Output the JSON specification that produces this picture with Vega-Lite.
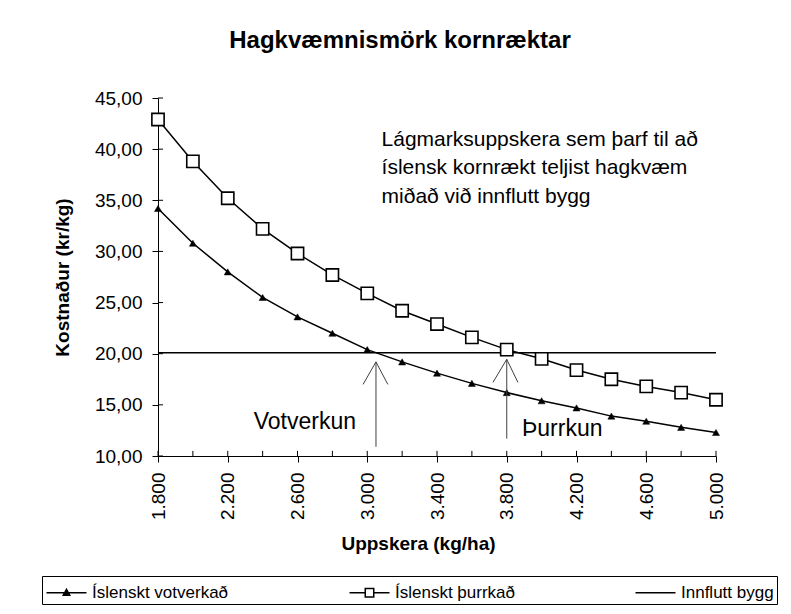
{
  "$schema": "https://vega.github.io/schema/vega-lite/v6.json",
  "width": 558,
  "height": 358,
  "autosize": "none",
  "padding": {"left": 158, "top": 98, "right": 75, "bottom": 158},
  "background": "white",
  "config": {
    "font": "Liberation Sans",
    "view": {"stroke": null},
    "axis": {"grid": false, "domainColor": "black", "tickColor": "black", "labelColor": "black", "titleColor": "black", "labelFont": "Liberation Sans", "titleFont": "Liberation Sans", "labelFlush": false, "labelOverlap": false, "labelBound": false}
  },
  "title": {"text": "Hagkvæmnismörk kornræktar", "fontSize": 24, "fontWeight": "bold", "font": "Liberation Sans", "color": "black", "anchor": "middle", "dx": -37, "baseline": "alphabetic", "offset": 17},
  "datasets": {
    "series": [
      {"u": 1800, "k": 34.2, "s": "Íslenskt votverkað"},
      {"u": 2000, "k": 30.8, "s": "Íslenskt votverkað"},
      {"u": 2200, "k": 28.0, "s": "Íslenskt votverkað"},
      {"u": 2400, "k": 25.5, "s": "Íslenskt votverkað"},
      {"u": 2600, "k": 23.6, "s": "Íslenskt votverkað"},
      {"u": 2800, "k": 22.0, "s": "Íslenskt votverkað"},
      {"u": 3000, "k": 20.4, "s": "Íslenskt votverkað"},
      {"u": 3200, "k": 19.2, "s": "Íslenskt votverkað"},
      {"u": 3400, "k": 18.1, "s": "Íslenskt votverkað"},
      {"u": 3600, "k": 17.1, "s": "Íslenskt votverkað"},
      {"u": 3800, "k": 16.2, "s": "Íslenskt votverkað"},
      {"u": 4000, "k": 15.4, "s": "Íslenskt votverkað"},
      {"u": 4200, "k": 14.7, "s": "Íslenskt votverkað"},
      {"u": 4400, "k": 13.9, "s": "Íslenskt votverkað"},
      {"u": 4600, "k": 13.4, "s": "Íslenskt votverkað"},
      {"u": 4800, "k": 12.8, "s": "Íslenskt votverkað"},
      {"u": 5000, "k": 12.3, "s": "Íslenskt votverkað"},
      {"u": 1800, "k": 42.9, "s": "Íslenskt þurrkað"},
      {"u": 2000, "k": 38.8, "s": "Íslenskt þurrkað"},
      {"u": 2200, "k": 35.2, "s": "Íslenskt þurrkað"},
      {"u": 2400, "k": 32.2, "s": "Íslenskt þurrkað"},
      {"u": 2600, "k": 29.8, "s": "Íslenskt þurrkað"},
      {"u": 2800, "k": 27.7, "s": "Íslenskt þurrkað"},
      {"u": 3000, "k": 25.9, "s": "Íslenskt þurrkað"},
      {"u": 3200, "k": 24.2, "s": "Íslenskt þurrkað"},
      {"u": 3400, "k": 22.9, "s": "Íslenskt þurrkað"},
      {"u": 3600, "k": 21.6, "s": "Íslenskt þurrkað"},
      {"u": 3800, "k": 20.4, "s": "Íslenskt þurrkað"},
      {"u": 4000, "k": 19.5, "s": "Íslenskt þurrkað"},
      {"u": 4200, "k": 18.4, "s": "Íslenskt þurrkað"},
      {"u": 4400, "k": 17.5, "s": "Íslenskt þurrkað"},
      {"u": 4600, "k": 16.8, "s": "Íslenskt þurrkað"},
      {"u": 4800, "k": 16.2, "s": "Íslenskt þurrkað"},
      {"u": 5000, "k": 15.5, "s": "Íslenskt þurrkað"},
      {"u": 1800, "k": 20.1, "s": "Innflutt bygg"},
      {"u": 2000, "k": 20.1, "s": "Innflutt bygg"},
      {"u": 2200, "k": 20.1, "s": "Innflutt bygg"},
      {"u": 2400, "k": 20.1, "s": "Innflutt bygg"},
      {"u": 2600, "k": 20.1, "s": "Innflutt bygg"},
      {"u": 2800, "k": 20.1, "s": "Innflutt bygg"},
      {"u": 3000, "k": 20.1, "s": "Innflutt bygg"},
      {"u": 3200, "k": 20.1, "s": "Innflutt bygg"},
      {"u": 3400, "k": 20.1, "s": "Innflutt bygg"},
      {"u": 3600, "k": 20.1, "s": "Innflutt bygg"},
      {"u": 3800, "k": 20.1, "s": "Innflutt bygg"},
      {"u": 4000, "k": 20.1, "s": "Innflutt bygg"},
      {"u": 4200, "k": 20.1, "s": "Innflutt bygg"},
      {"u": 4400, "k": 20.1, "s": "Innflutt bygg"},
      {"u": 4600, "k": 20.1, "s": "Innflutt bygg"},
      {"u": 4800, "k": 20.1, "s": "Innflutt bygg"},
      {"u": 5000, "k": 20.1, "s": "Innflutt bygg"}
    ],
    "xt": [
      {"u": 1800}, {"u": 2000}, {"u": 2200}, {"u": 2400}, {"u": 2600}, {"u": 2800}, {"u": 3000}, {"u": 3200}, {"u": 3400},
      {"u": 3600}, {"u": 3800}, {"u": 4000}, {"u": 4200}, {"u": 4400}, {"u": 4600}, {"u": 4800}, {"u": 5000}
    ],
    "yt": [
      {"k": 10}, {"k": 15}, {"k": 20}, {"k": 25}, {"k": 30}, {"k": 35}, {"k": 40}, {"k": 45}
    ],
    "arrows": [
      {"u": 3050, "k": 10.9, "u2": 3050, "k2": 19.2},
      {"u": 2976, "k": 17.0, "u2": 3050, "k2": 19.2},
      {"u": 3118, "k": 17.0, "u2": 3050, "k2": 19.2},
      {"u": 3800, "k": 11.7, "u2": 3800, "k2": 19.45},
      {"u": 3721, "k": 17.2, "u2": 3800, "k2": 19.45},
      {"u": 3864, "k": 17.2, "u2": 3800, "k2": 19.45}
    ],
    "lbl": [
      {"u": 2642, "k": 13.3, "text": "Votverkun"},
      {"u": 4118, "k": 12.64, "text": "Þurrkun"}
    ],
    "note": [
      {"u": 3082, "k": 40.9, "text": "Lágmarksuppskera sem þarf til að"},
      {"u": 3082, "k": 38.15, "text": "íslensk kornrækt teljist hagkvæm"},
      {"u": 3082, "k": 35.3, "text": "miðað við innflutt bygg"}
    ]
  },
  "layer": [
    {
      "data": {"name": "series"},
      "mark": {"type": "line", "color": "black", "strokeWidth": 1.5},
      "encoding": {
        "x": {
          "field": "u", "type": "quantitative",
          "scale": {"domain": [1800, 5000], "nice": false, "zero": false},
          "axis": {
            "title": "Uppskera (kg/ha)",
            "values": [1800, 2000, 2200, 2400, 2600, 2800, 3000, 3200, 3400, 3600, 3800, 4000, 4200, 4400, 4600, 4800, 5000],
            "labelExpr": "(datum.value - 1800) % 400 === 0 ? replace(format(datum.value, ','), ',', '.') : ''",
            "labelAngle": -90, "labelFontSize": 19, "labelPadding": 10, "tickSize": 6,
            "titleFontSize": 19, "titleFontWeight": "bold", "titlePadding": 15, "titleX": 260
          }
        },
        "y": {
          "field": "k", "type": "quantitative",
          "scale": {"domain": [10, 45], "nice": false, "zero": false},
          "axis": {
            "title": "Kostnaður (kr/kg)",
            "values": [10, 15, 20, 25, 30, 35, 40, 45],
            "labelExpr": "replace(format(datum.value, '.2f'), '.', ',')",
            "labelFontSize": 19, "labelPadding": 10, "tickSize": 6,
            "titleFontSize": 19, "titleFontWeight": "bold", "titlePadding": 22
          }
        },
        "detail": {"field": "s"}
      }
    },
    {
      "data": {"name": "series"},
      "transform": [{"filter": "datum.s === 'Íslenskt votverkað'"}],
      "mark": {"type": "point", "shape": "triangle-up", "filled": true, "fill": "black", "stroke": "black", "strokeWidth": 0.5, "size": 50, "opacity": 1},
      "encoding": {
        "x": {"field": "u", "type": "quantitative"},
        "y": {"field": "k", "type": "quantitative"}
      }
    },
    {
      "data": {"name": "series"},
      "transform": [{"filter": "datum.s === 'Íslenskt þurrkað'"}],
      "mark": {"type": "point", "shape": "square", "filled": true, "fill": "white", "stroke": "black", "strokeWidth": 1.6, "size": 150, "opacity": 1},
      "encoding": {
        "x": {"field": "u", "type": "quantitative"},
        "y": {"field": "k", "type": "quantitative"}
      }
    },
    {
      "data": {"name": "series"},
      "transform": [{"filter": "false"}],
      "mark": {"type": "point", "filled": true, "strokeWidth": 1.5, "opacity": 1},
      "encoding": {
        "x": {"field": "u", "type": "quantitative"},
        "y": {"field": "k", "type": "quantitative"},
        "shape": {
          "field": "s", "type": "nominal",
          "scale": {
            "domain": ["Íslenskt votverkað", "Íslenskt þurrkað", "Innflutt bygg"],
            "range": ["M-1.6,0H1.6M0,-0.28L0.26,0.2H-0.26Z", "M-1.6,0H-0.34M0.34,0H1.6M-0.34,-0.34H0.34V0.34H-0.34Z", "M-1.6,0H1.6"]
          },
          "legend": {
            "title": null, "orient": "none", "legendX": -116, "legendY": 478,
            "direction": "horizontal", "columns": 3,
            "strokeColor": "black", "padding": 3, "columnPadding": 117,
            "labelFontSize": 17, "labelFont": "Liberation Sans", "labelColor": "black",
            "symbolSize": 625, "symbolStrokeWidth": 1.5, "symbolStrokeColor": "black",
            "labelOffset": 12, "symbolOffset": 8
          }
        },
        "fill": {
          "field": "s", "type": "nominal",
          "scale": {
            "domain": ["Íslenskt votverkað", "Íslenskt þurrkað", "Innflutt bygg"],
            "range": ["black", "white", "transparent"]
          }
        },
        "stroke": {
          "field": "s", "type": "nominal",
          "scale": {
            "domain": ["Íslenskt votverkað", "Íslenskt þurrkað", "Innflutt bygg"],
            "range": ["black", "black", "black"]
          }
        }
      }
    },
    {
      "data": {"name": "xt"},
      "mark": {"type": "rule", "color": "black", "strokeWidth": 1},
      "encoding": {
        "x": {"field": "u", "type": "quantitative"},
        "y": {"datum": 10, "type": "quantitative"},
        "y2": {"datum": 10.5}
      }
    },
    {
      "data": {"name": "yt"},
      "mark": {"type": "rule", "color": "black", "strokeWidth": 1},
      "encoding": {
        "y": {"field": "k", "type": "quantitative"},
        "x": {"datum": 1800, "type": "quantitative"},
        "x2": {"datum": 1829}
      }
    },
    {
      "data": {"name": "arrows"},
      "mark": {"type": "rule", "color": "#404040", "strokeWidth": 1},
      "encoding": {
        "x": {"field": "u", "type": "quantitative"},
        "y": {"field": "k", "type": "quantitative"},
        "x2": {"field": "u2"},
        "y2": {"field": "k2"}
      }
    },
    {
      "data": {"name": "lbl"},
      "mark": {"type": "text", "fontSize": 23, "font": "Liberation Sans", "color": "black", "align": "center", "baseline": "middle"},
      "encoding": {
        "x": {"field": "u", "type": "quantitative"},
        "y": {"field": "k", "type": "quantitative"},
        "text": {"field": "text"}
      }
    },
    {
      "data": {"name": "note"},
      "mark": {"type": "text", "fontSize": 21, "font": "Liberation Sans", "color": "black", "align": "left", "baseline": "middle"},
      "encoding": {
        "x": {"field": "u", "type": "quantitative"},
        "y": {"field": "k", "type": "quantitative"},
        "text": {"field": "text"}
      }
    }
  ]
}
